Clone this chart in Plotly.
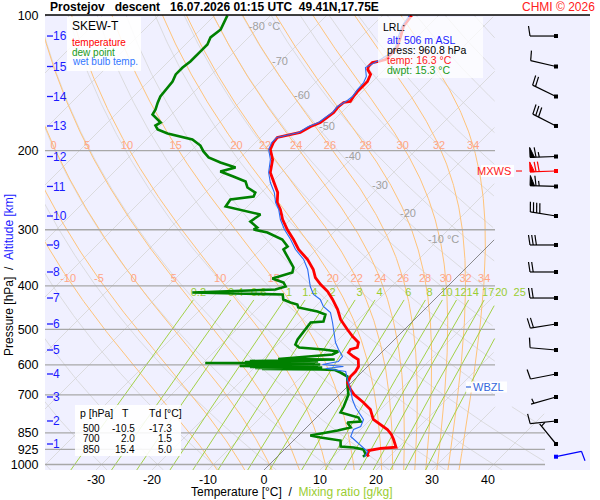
import numpy as np
import plotly.graph_objects as go

# ================= DATA =================
station = "Prostejov"
mode_txt = "descent"
time_txt = "16.07.2026 01:15 UTC"
pos_txt = "49.41N,17.75E"
credit_txt = "CHMI © 2026"

p_levels = [100, 200, 300, 400, 500, 600, 700, 850, 925, 1000]
t_ticks = [-30, -20, -10, 0, 10, 20, 30, 40]

# temperature profile [hPa], [°C]
temp_p = [100, 105.8, 111.4, 117.2, 120.9, 125.3, 126.6, 127.3, 129.9, 131.9, 135.3, 140.3, 143.9,
          147.7, 151.5, 155.4, 156.2, 160.3, 164.4, 168.7, 173.1, 176.7, 182.2, 186.9, 191.8, 198.8,
          209.3, 223.7, 235.5, 247.9, 260.9, 270.4, 284.7, 299.6, 315.4, 332.0, 349.5, 367.9, 383.3,
          397.3, 411.8, 429.0, 451.7, 475.4, 500.4, 518.7, 534.9, 548.8, 554.5, 563.1, 574.7, 583.7,
          605.0, 620.7, 636.9, 656.8, 680.7, 698.4, 727.7, 754.3, 793.9, 814.5, 835.7, 857.4, 879.7,
          915.0, 921.0, 930.8, 950.0, 960.8]
temp_t = [-54.8, -54.3, -53.0, -51.8, -51.6, -51.6, -52.5, -53.4, -53.4, -53.0, -51.6, -50.9, -50.9,
          -50.9, -50.7, -50.4, -51.4, -51.6, -51.4, -51.6, -52.0, -53.0, -53.8, -57.0, -56.8, -56.1,
          -53.9, -52.0, -49.6, -47.1, -45.4, -43.6, -41.4, -38.8, -35.9, -33.2, -29.8, -27.0, -25.2,
          -23.0, -20.5, -18.2, -15.5, -13.2, -10.2, -8.0, -5.9, -5.2, -6.1, -5.9, -4.3, -2.9,
          -1.6, -1.25, -1.25, -0.7, 1.1, 2.6, 5.7, 8.2, 10.5, 12.7, 14.8, 16.4, 17.7,
          19.5, 17.0, 15.2, 15.7, 16.3]

# dew point profile
dew_p = [100, 103.7, 107.4, 111.9, 116.0, 119.1, 122.1, 126.6, 130.6, 135.3, 140.3, 146.2, 151.5,
         156.2, 161.9, 166.1, 170.5, 173.1, 175.8, 179.4, 183.2, 186.0, 188.9, 194.8, 200.8, 207.1,
         212.5, 218.0, 222.6, 228.3, 234.3, 241.6, 247.9, 253.0, 256.9, 266.3, 273.2, 277.5, 287.6,
         296.6, 299.6, 304.3, 315.4, 326.9, 332.0, 353.1, 364.1, 373.6, 381.4, 385.3, 393.2, 401.4,
         407.6, 413.9, 418.2, 429.0, 435.7, 440.2, 447.0, 456.3, 463.4, 480.3, 482.8, 500.4, 526.8,
         540.5, 548.8, 554.5, 560.2, 568.9, 576.2, 582.1, 583.6, 585.2, 588.2, 589.7, 591.2, 592.7,
         594.3, 595.8, 597.3, 598.8, 600.4, 601.9, 603.5, 605.0, 606.5, 608.1, 609.7, 611.2, 612.8,
         614.4, 615.9, 623.9, 636.9, 670.3, 698.4, 742.7, 765.9, 785.8, 802.1, 806.2, 827.1,
         840.0, 861.8, 870.7, 884.2, 911.9, 916.6, 926.0, 950.1, 960.8]
dew_t = [-87.7, -87.1, -86.4, -86.8, -86.1, -86.1, -86.1, -86.1, -86.4, -86.4, -85.7, -85.5, -85.2,
         -84.6, -83.75, -83.4, -81.6, -80.5, -80.9, -79.8, -77.3, -74.5, -71.8, -69.3, -67.7, -65.7,
         -62.7, -59.1, -61.1, -57.9, -54.8, -53.4, -51.1, -50.7, -54.3, -53.9, -49.1, -46.25, -46.8,
         -44.5, -44.8, -41.8, -37.9, -35.7, -35.9, -32.5, -30.9, -30.2, -31.6, -32.7, -30.0, -28.9,
         -30.2, -44.5, -28.0, -27.0, -25.2, -23.6, -22.9, -18.75, -16.8, -15.9, -18.0, -17.7, -17.3,
         -16.8, -15.6, -10.9, -7.9, -8.4, -13.75, -17.3, -7.1, -11.4, -22.0, -9.7, -22.7, -10.1,
         -29.6, -12.6, -22.3, -8.8, -21.6, -9.0, -22.9, -9.9, -20.9, -7.9, -19.8, -8.5, -18.4,
         -7.9, -5.2, -3.75, -1.8, 0.0, 1.6, 2.9, 3.4, 7.5, 8.6, 6.4, 7.9,
         6.1, 2.1, 4.3, 8.4, 9.5, 12.0, 14.1, 15.4, 15.3]

# wet bulb temperature profile
wb_p = [100, 105.8, 111.4, 117.2, 122.1, 125.3, 130.6, 136.7, 141.0, 146.2, 151.5, 154.6, 159.5,
        164.4, 168.7, 173.1, 176.7, 182.2, 186.9, 191.8, 198.8, 209.3, 223.7, 235.5, 247.9, 260.9,
        270.4, 284.7, 299.6, 315.4, 332.0, 349.5, 367.9, 383.3, 401.4, 418.2, 429.0, 444.7, 458.7,
        482.8, 508.1, 534.9, 554.5, 574.7, 589.7, 598.8, 605.0, 611.2, 620.7, 646.7, 680.7, 716.6,
        746.6, 793.9, 822.9, 835.7, 866.2, 893.3, 916.6, 935.5, 960.8]
wb_t = [-55.2, -54.6, -53.4, -52.1, -52.0, -52.5, -53.75, -52.0, -51.4, -51.25, -50.9, -51.1, -51.8,
        -51.6, -52.0, -52.3, -53.4, -54.1, -57.1, -57.1, -56.4, -54.3, -52.3, -50.2, -47.7, -45.7,
        -43.9, -41.8, -39.3, -36.4, -33.75, -30.5, -28.0, -26.4, -24.5, -22.5, -20.4, -18.6, -16.25,
        -14.1, -12.1, -10.0, -8.2, -6.25, -6.1, -8.4, -4.3, -7.1, -3.0, -1.25, 1.1, 3.2,
        5.2, 8.75, 9.5, 8.75, 9.5, 11.8, 13.75, 15.2, 15.6]

# altitude scale (km) and its pressure
alt_km = [1, 2, 3, 4, 5, 6, 7, 8, 9, 10, 11, 12, 13, 14, 15, 16]
alt_p = [900.2, 800.0, 707.3, 628.7, 555.9, 486.5, 425.8, 372.6, 324.4, 279.6, 240.3, 206.1,
         176.2, 151.5, 129.9, 111.1]

# winds at the km levels: direction [deg], speed [kt]
wind_dir = [321, 264, 254, 259, 275, 261, 270, 270, 270, 279, 272, 268, 297, 296, 283, 270]
wind_kt = [3, 10, 5, 10, 10, 20, 20, 20, 30, 40, 65, 65, 30, 20, 10, 10]
mxws_p, mxws_dir, mxws_kt = 222.0, 268, 70
sfc_p, sfc_dir, sfc_kt = 960.8, 78, 10
wbzl_p = 672.0

# LRL info
lrl_alt, lrl_press, lrl_temp, lrl_dwpt = 506, 960.8, 16.3, 15.3

# table
tab_p = [500, 700, 850]
tab_t = [-10.5, 2.0, 15.4]
tab_td = [-17.3, 1.5, 5.0]

# diagram line families
isotherm_vals = list(range(-120, 51, 10))
dry_theta_vals = list(range(-40, 181, 10))
moist_thw_vals = [-10, -5, 0, 5, 10, 15, 20, 22, 24, 26, 28, 30, 32, 34]
mix_vals = [0.2, 0.4, 0.6, 1, 1.4, 2, 3, 4, 6, 8, 10, 12, 14, 17, 20, 25]
mix_text = ["0.2", "0.4", "0.6", "1", "1.4", "2", "3", "4", "6", "8", "10", "12", "14", "17", "20", "25"]
iso_label_vals = [-80, -70, -60, -50, -40, -30, -20, -10]
iso_label_p = [106.1, 126.9, 151.1, 177.2, 206.6, 239.7, 276.8, 316.2]
moist_label_p = [195.3, 386.2]
mix_label_p = 415.0
mix_top_p = 430.0

# ================= GEOMETRY =================
FONT = "Liberation Sans, Arial, sans-serif"
W, H = 600, 500
ML, MR, MT, MB = 45, 10, 15, 30
PW, PH = W - ML - MR, H - MT - MB
PX0, PXC = 264.0, 5.6         # px of 0 °C at the bottom edge, px per °C
PY100, PYLN = 15.5, 195.0     # px of 100 hPa, px per ln(p)


def py2p(py):
    return 100.0 * np.exp((np.asarray(py, float) - PY100) / PYLN)


def p2py(p):
    return PY100 + PYLN * np.log(np.asarray(p, float) / 100.0)


def px2X(px):
    return (np.asarray(px, float) - PX0) / PXC


P_TOP = float(py2p(MT))
P_BOT = float(py2p(H - MB))
K = PYLN / PXC
XL, XR = float(px2X(ML)), float(px2X(W - MR))


def skewX(T, p):
    return np.asarray(T, float) + K * np.log(P_BOT / np.asarray(p, float))


def clip_right(X, p):
    X = np.array(X, float)
    p = np.array(p, float)
    lim = np.where(p < 740, px2X(495), px2X(545))
    X[X > lim] = np.nan
    return X


def tolist(a):
    return [None if (v is None or (isinstance(v, float) and np.isnan(v))) else float(v) for v in a]


def fam(lines):
    xs, ys = [], []
    for X, p in lines:
        xs += tolist(X) + [None]
        ys += tolist(p) + [None]
    return xs, ys


def es_w(Tc):
    return 6.112 * np.exp(17.67 * Tc / (Tc + 243.5))


def T_from_e(e):
    a = np.log(e / 6.112)
    return 243.5 * a / (17.67 - a)


fig = go.Figure()
pgrid = np.geomspace(P_TOP, P_BOT, 260)

# isotherms
lines = []
for t in isotherm_vals:
    if t == 0:
        continue
    lines.append((clip_right(skewX(np.full_like(pgrid, t), pgrid), pgrid), pgrid))
xs, ys = fam(lines)
fig.add_trace(go.Scatter(x=xs, y=ys, mode="lines", line=dict(color="#d6d6d6", width=0.8), hoverinfo="skip"))

# dry adiabats
lines = []
for th in dry_theta_vals:
    T = (th + 273.15) * (pgrid / 1000.0) ** 0.2857 - 273.15
    lines.append((clip_right(skewX(T, pgrid), pgrid), pgrid))
xs, ys = fam(lines)
fig.add_trace(go.Scatter(x=xs, y=ys, mode="lines", line=dict(color="#d6d6d6", width=0.8), hoverinfo="skip"))


# moist (pseudo) adiabats
def dTdlnp(T, p):
    Tc = T - 273.15
    es = es_w(Tc)
    rs = 0.622 * es / (p - es)
    Rd, Cp, Lv, eps = 287.04, 1005.7, 2.501e6, 0.622
    return (Rd * T + Lv * rs) / (Cp + Lv * Lv * rs * eps / (Rd * T * T))


def integrate(T0, lnp0, lnp1, n):
    h = (lnp1 - lnp0) / n
    T, lnp = T0, lnp0
    outp, outT = [np.exp(lnp)], [T]
    for _ in range(n):
        k1 = dTdlnp(T, np.exp(lnp))
        k2 = dTdlnp(T + 0.5 * h * k1, np.exp(lnp + 0.5 * h))
        k3 = dTdlnp(T + 0.5 * h * k2, np.exp(lnp + 0.5 * h))
        k4 = dTdlnp(T + h * k3, np.exp(lnp + h))
        T = T + h * (k1 + 2 * k2 + 2 * k3 + k4) / 6.0
        lnp += h
        outp.append(np.exp(lnp))
        outT.append(T)
    return np.array(outp), np.array(outT)


moist_lines = []
moist_lab = []
for tw in moist_thw_vals:
    pu, Tu = integrate(tw + 273.15, np.log(1000.0), np.log(P_TOP), 240)
    pd, Td_ = integrate(tw + 273.15, np.log(1000.0), np.log(P_BOT), 4)
    pp = np.concatenate([pu[::-1], pd[1:]])
    TT = np.concatenate([Tu[::-1], Td_[1:]]) - 273.15
    Xm = skewX(TT, pp)
    moist_lines.append((clip_right(Xm, pp), pp))
    for pl in moist_label_p:
        Xl = float(np.interp(np.log(pl), np.log(pp), Xm))
        pxl = PX0 + PXC * Xl
        if 50 < pxl < 490:
            moist_lab.append((Xl, pl, str(tw)))
xs, ys = fam(moist_lines)
fig.add_trace(go.Scatter(x=xs, y=ys, mode="lines", line=dict(color="#ffc47a", width=1), hoverinfo="skip"))

# mixing ratio lines
mp = np.geomspace(mix_top_p, P_BOT, 120)
lines = []
mix_lab = []
for w, wt in zip(mix_vals, mix_text):
    e = w * mp / (622.0 + w)
    lines.append((clip_right(skewX(T_from_e(e), mp), mp), mp))
    el = w * mix_label_p / (622.0 + w)
    mix_lab.append((float(skewX(T_from_e(el), mix_label_p)), mix_label_p, wt))
xs, ys = fam(lines)
fig.add_trace(go.Scatter(x=xs, y=ys, mode="lines", line=dict(color="#9acd32", width=0.9), hoverinfo="skip"))

# isobars
xs, ys = [], []
for p in p_levels[1:]:
    xr = px2X(545) if p >= 850 else px2X(495)
    xs += [XL, float(xr), None]
    ys += [p, p, None]
fig.add_trace(go.Scatter(x=xs, y=ys, mode="lines", line=dict(color="#a8a8a8", width=1.3), hoverinfo="skip"))

# 0 °C isotherm
X0 = clip_right(skewX(np.zeros_like(pgrid), pgrid), pgrid)
fig.add_trace(go.Scatter(x=tolist(X0), y=tolist(pgrid), mode="lines",
                         line=dict(color="#707070", width=0.8), hoverinfo="skip"))

# labels of diagram lines
fig.add_trace(go.Scatter(x=[m[0] for m in moist_lab], y=[m[1] for m in moist_lab],
                         text=[m[2] for m in moist_lab], mode="text",
                         textfont=dict(color="#ffa585", size=11, family=FONT), hoverinfo="skip"))
fig.add_trace(go.Scatter(x=[m[0] for m in mix_lab], y=[m[1] for m in mix_lab],
                         text=[m[2] for m in mix_lab], mode="text",
                         textfont=dict(color="#9acd32", size=11, family=FONT), hoverinfo="skip"))
iso_x = skewX(iso_label_vals, iso_label_p)
iso_txt = [("%d °C" % v) if v in (-80, -10) else ("%d" % v) for v in iso_label_vals]
iso_pos = ["middle right" if v in (-80, -10) else "middle center" for v in iso_label_vals]
iso_xx = [x - 1.8 if v in (-80, -10) else x for x, v in zip(iso_x, iso_label_vals)]
fig.add_trace(go.Scatter(x=iso_xx, y=iso_label_p, text=iso_txt, mode="text", textposition=iso_pos,
                         textfont=dict(color="#a0a0a0", size=11, family=FONT), hoverinfo="skip"))

# ---- sounding ----
fig.add_trace(go.Scatter(x=tolist(skewX(dew_t, dew_p)), y=dew_p, mode="lines",
                         line=dict(color="#008000", width=2.6), hoverinfo="skip"))
fig.add_trace(go.Scatter(x=tolist(skewX(temp_t, temp_p)), y=temp_p, mode="lines",
                         line=dict(color="#ff0000", width=2.8), hoverinfo="skip"))
fig.add_trace(go.Scatter(x=tolist(skewX(wb_t, wb_p)), y=wb_p, mode="lines",
                         line=dict(color="#2a6bf2", width=1.1), hoverinfo="skip"))

# altitude scale
ax_tick = [float(px2X(47)), float(px2X(53))]
xs, ys = [], []
for p in alt_p:
    xs += ax_tick + [None]
    ys += [p, p, None]
fig.add_trace(go.Scatter(x=xs, y=ys, mode="lines", line=dict(color="#1a1aff", width=1.3), hoverinfo="skip"))
fig.add_trace(go.Scatter(x=[float(px2X(53))] * len(alt_p), y=[p * 1.006 for p in alt_p],
                         text=[str(k) for k in alt_km], mode="text", textposition="middle right",
                         textfont=dict(color="#1a1aff", size=12, family=FONT), hoverinfo="skip"))


# ---- wind barbs ----
BARB_PX = 556


def barb(p, d, spd):
    bx, by = BARB_PX, float(p2py(p))
    th = np.deg2rad(d)
    ux, uy = np.sin(th), -np.cos(th)
    nx, ny = -uy, ux
    L = 26.0
    tx, ty = bx + L * ux, by + L * uy
    segs = [[(bx, by), (tx, ty)]]
    polys = []
    s = int(5 * round(spd / 5.0))
    nflag = s // 50
    s -= 50 * nflag
    nfull = s // 10
    s -= 10 * nfull
    nhalf = s // 5
    pos = 0.0
    for _ in range(nflag):
        a = (tx - pos * ux, ty - pos * uy)
        b = (tx - (pos + 4.5) * ux, ty - (pos + 4.5) * uy)
        c = (a[0] + 10 * nx, a[1] + 10 * ny)
        polys.append([a, c, b, a])
        pos += 6.0
    for _ in range(nfull):
        a = (tx - pos * ux, ty - pos * uy)
        e = (a[0] + 10 * nx + 1.5 * ux, a[1] + 10 * ny + 1.5 * uy)
        segs.append([a, e])
        pos += 3.2
    if nhalf:
        if pos == 0:
            pos = 3.0
        a = (tx - pos * ux, ty - pos * uy)
        e = (a[0] + 5 * nx + 0.8 * ux, a[1] + 5 * ny + 0.8 * uy)
        segs.append([a, e])
    return (bx, by), segs, polys


def add_barbs(plist, dlist, slist, color):
    lx, ly, fx, fy, dx, dy = [], [], [], [], [], []
    for p, d, s in zip(plist, dlist, slist):
        base, segs, polys = barb(p, d, s)
        dx.append(float(px2X(base[0])))
        dy.append(float(py2p(base[1])))
        for sg in segs:
            lx += [float(px2X(q[0])) for q in sg] + [None]
            ly += [float(py2p(q[1])) for q in sg] + [None]
        for pg in polys:
            fx += [float(px2X(q[0])) for q in pg] + [None]
            fy += [float(py2p(q[1])) for q in pg] + [None]
    fig.add_trace(go.Scatter(x=lx, y=ly, mode="lines", line=dict(color=color, width=1.2), hoverinfo="skip"))
    if fx:
        fig.add_trace(go.Scatter(x=fx, y=fy, mode="lines", fill="toself", fillcolor=color,
                                 line=dict(color=color, width=1), hoverinfo="skip"))
    fig.add_trace(go.Scatter(x=dx, y=dy, mode="markers",
                             marker=dict(symbol="square", size=4, color=color), hoverinfo="skip"))


add_barbs(alt_p, wind_dir, wind_kt, "black")
add_barbs([mxws_p], [mxws_dir], [mxws_kt], "#ff0000")
add_barbs([sfc_p], [sfc_dir], [sfc_kt], "#0000ff")

# ---- annotations / boxes ----
def pxx(px):
    return (px - ML) / PW


def pyy(py):
    return 1 - (py - MT) / PH


anns = []
shapes = []


def ann(px, py, text, size=11, color="black", xa="left", ya="middle", bold=False, **kw):
    if bold:
        text = "<b>" + text + "</b>"
    anns.append(dict(x=pxx(px), y=pyy(py), xref="paper", yref="paper", text=text, showarrow=False,
                     font=dict(size=size, color=color, family=FONT), xanchor=xa, yanchor=ya, **kw))


def box(x0, y0, x1, y1, alpha):
    shapes.append(dict(type="rect", xref="paper", yref="paper", x0=pxx(x0), x1=pxx(x1),
                       y0=pyy(y1), y1=pyy(y0), fillcolor="rgba(255,255,255,%.2f)" % alpha,
                       line=dict(width=0), layer="above"))


NB = "\u00a0"
ann(48, 7, station + NB * 3 + mode_txt + NB * 3 + time_txt + NB * 2 + pos_txt, size=12, bold=True)
ann(597, 7, credit_txt, size=12, color="#ff2020", xa="right")
shapes.append(dict(type="line", xref="paper", yref="paper", x0=0, x1=1, y0=1, y1=1,
                   line=dict(color="black", width=1.5), layer="above"))

# legend box
box(67, 17, 141, 71, 0.88)
ann(70, 26, "SKEW-T", size=12)
ann(70, 42, "temperature", size=10, color="#ff0000")
ann(70, 52, "dew point", size=10, color="#1a9a1a")
ann(70, 62, "wet bulb temp.", size=10, color="#3377ff")

# LRL box
box(378, 17, 483, 78, 0.72)
ann(381, 27, "LRL:", size=10.5)
ann(385, 39.5, "alt: %d m ASL" % lrl_alt, size=10.5, color="#1a1aff")
ann(385, 50, "press: %.1f hPa" % lrl_press, size=10.5)
ann(385, 60, "temp: %.1f °C" % lrl_temp, size=10.5, color="#ff2020")
ann(385, 70, "dwpt: %.1f °C" % lrl_dwpt, size=10.5, color="#1a9a1a")

# table box
box(75, 405, 181, 456, 0.88)
ann(78, 413, "p [hPa]", size=10.5)
ann(125, 413, "T", size=10.5, xa="center")
ann(147, 413, "Td [°C]", size=10.5)
for i, (pp, tt, dd) in enumerate(zip(tab_p, tab_t, tab_td)):
    yy = 428.3 + i * 10.5
    ann(102, yy, "%d" % pp, size=10, xa="right")
    ann(137, yy, "%.1f" % tt, size=10, xa="right")
    ann(173.5, yy, "%.1f" % dd, size=10, xa="right")

# MXWS label
ymx = float(p2py(mxws_p))
box(481, ymx - 6, 514, ymx + 6, 0.9)
ann(513, ymx, "MXWS", size=11, color="#ff2020", xa="right")
shapes.append(dict(type="line", xref="paper", yref="paper", x0=pxx(516), x1=pxx(522),
                   y0=pyy(ymx), y1=pyy(ymx), line=dict(color="#ff2020", width=1.2), layer="above"))

# WBZL label
ywb = float(p2py(wbzl_p))
box(466, ywb - 5.5, 507, ywb + 5.5, 0.9)
shapes.append(dict(type="line", xref="paper", yref="paper", x0=pxx(466), x1=pxx(471),
                   y0=pyy(ywb), y1=pyy(ywb), line=dict(color="#3366dd", width=1.2), layer="above"))
ann(471, ywb, "WBZL", size=11, color="#3366dd")

# axis titles
ann(292, 492, "Temperature [°C]" + NB + NB + "/" + NB + NB +
    "<span style='color:#9acd32'>Mixing ratio [g/kg]</span>", size=12, xa="center")
anns.append(dict(x=pxx(9), y=pyy(275), xref="paper", yref="paper", showarrow=False, textangle=-90,
                 text="Pressure [hPa]" + NB + NB + "/" + NB + NB +
                      "<span style='color:#1a1aff'>Altitude [km]</span>",
                 font=dict(size=12, color="black", family=FONT), xanchor="center", yanchor="middle"))

fig.update_layout(
    width=W, height=H, margin=dict(l=ML, r=MR, t=MT, b=MB),
    plot_bgcolor="#f0f0ff", paper_bgcolor="white", showlegend=False,
    font=dict(family=FONT, size=12, color="black"),
    annotations=anns, shapes=shapes,
    xaxis=dict(range=[XL, XR], showgrid=False, zeroline=False, showline=False,
               tickmode="array", tickvals=t_ticks, ticktext=[str(t) for t in t_ticks],
               ticks="", ticklen=0,
               tickfont=dict(size=12.5, color="black", family=FONT), fixedrange=True),
    yaxis=dict(type="log", range=[np.log10(P_BOT), np.log10(P_TOP)], showgrid=False, zeroline=False,
               showline=False, tickmode="array", tickvals=p_levels, ticktext=[str(p) for p in p_levels],
               ticks="outside", ticklen=3, tickcolor="rgba(0,0,0,0)",
               tickfont=dict(size=12.5, color="black", family=FONT), fixedrange=True),
)

fig.write_html("out.html", config={"displayModeBar": False, "staticPlot": True},
               post_script="document.body.style.margin='0';")
